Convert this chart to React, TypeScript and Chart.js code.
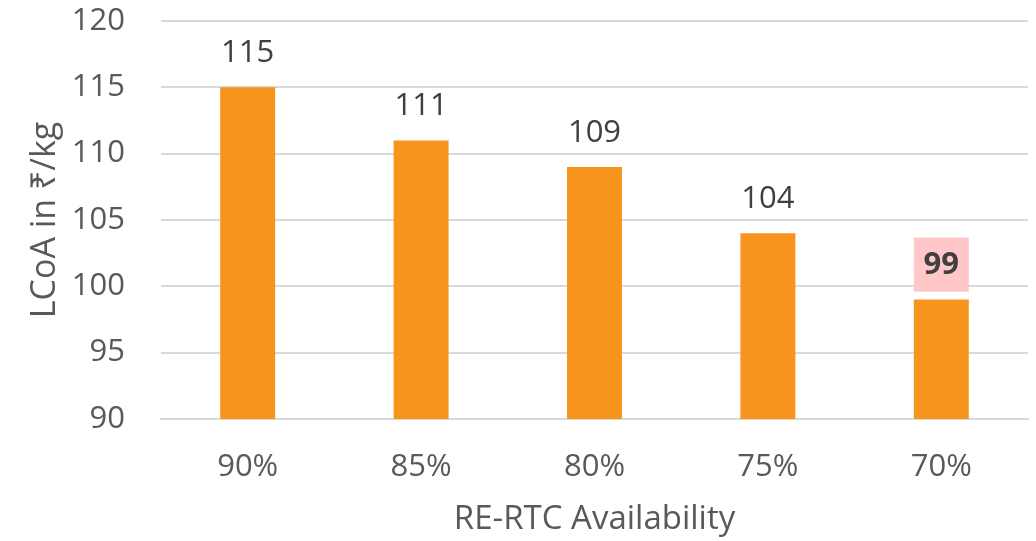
import React, { useEffect, useRef } from "react";
import { Chart, registerables } from "chart.js";

Chart.register(...registerables);

const categories = ["90%", "85%", "80%", "75%", "70%"];
const lcoaValues = [115, 111, 109, 104, 99];
const highlightIndex = 4;
const yTicks = [90, 95, 100, 105, 110, 115, 120];

const FONT = "'Open Sans', 'Noto Sans', sans-serif";

const labelPlugin = {
  id: "barLabels",
  afterDatasetsDraw(chart: any) {
    const ctx = chart.ctx;
    const meta = chart.getDatasetMeta(0);
    ctx.save();
    meta.data.forEach((bar: any, i: number) => {
      const x = bar.x;
      const y = bar.y - 35;
      const text = String(lcoaValues[i]);
      if (i === highlightIndex) {
        const w = bar.width;
        ctx.fillStyle = "#FFC7C7";
        ctx.fillRect(x - w / 2, y - 27, w, 54);
        ctx.font = `bold 31px ${FONT}`;
        ctx.fillStyle = "#404040";
      } else {
        ctx.font = `31px ${FONT}`;
        ctx.fillStyle = "#404040";
      }
      ctx.textAlign = "center";
      ctx.textBaseline = "middle";
      ctx.fillText(text, x, y + 1);
    });
    ctx.restore();
  },
};

export default function App() {
  const ref = useRef<HTMLCanvasElement>(null);
  useEffect(() => {
    document.body.style.margin = "0";
    const chart = new Chart(ref.current!, {
      type: "bar",
      data: {
        labels: categories,
        datasets: [
          {
            data: lcoaValues,
            backgroundColor: "#F7941E",
            categoryPercentage: 1,
            barPercentage: 0.317,
          },
        ],
      },
      plugins: [labelPlugin],
      options: {
        responsive: false,
        animation: false,
        layout: { padding: { top: 21, right: 8, left: 0, bottom: 0 } },
        plugins: { legend: { display: false }, tooltip: { enabled: false } },
        scales: {
          x: {
            grid: { display: false, drawTicks: false },
            border: { display: true, color: "#D9D9D9", width: 2 },
            ticks: { color: "#595959", font: { family: FONT, size: 31 }, padding: 30 },
            title: {
              display: true,
              text: "RE-RTC Availability",
              color: "#595959",
              font: { family: FONT, size: 33 },
              padding: { top: 0, bottom: 2 },
            },
            afterFit: (s: any) => {
              s.height = 122;
              s.paddingLeft = 0;
              s.paddingRight = 0;
            },
          },
          y: {
            min: 90,
            max: 120,
            afterBuildTicks: (s: any) => {
              s.ticks = yTicks.map((v) => ({ value: v }));
            },
            grid: { color: "#D9D9D9", lineWidth: 2, drawTicks: false },
            border: { display: false },
            ticks: { color: "#595959", font: { family: FONT, size: 31 }, padding: 36 },
            title: {
              display: true,
              text: "LCoA in ₹/kg",
              color: "#595959",
              font: { family: FONT, size: 34 },
              padding: { top: 25, bottom: 0 },
            },
            afterFit: (s: any) => {
              s.width = 161;
              s.paddingTop = 0;
              s.paddingBottom = 0;
            },
          },
        },
      },
    });
    return () => chart.destroy();
  }, []);
  return (
    <div style={{ position: "fixed", left: 0, top: 0, width: 1036, height: 541 }}>
      <canvas ref={ref} width={1036} height={541} style={{ width: 1036, height: 541 }} />
    </div>
  );
}
